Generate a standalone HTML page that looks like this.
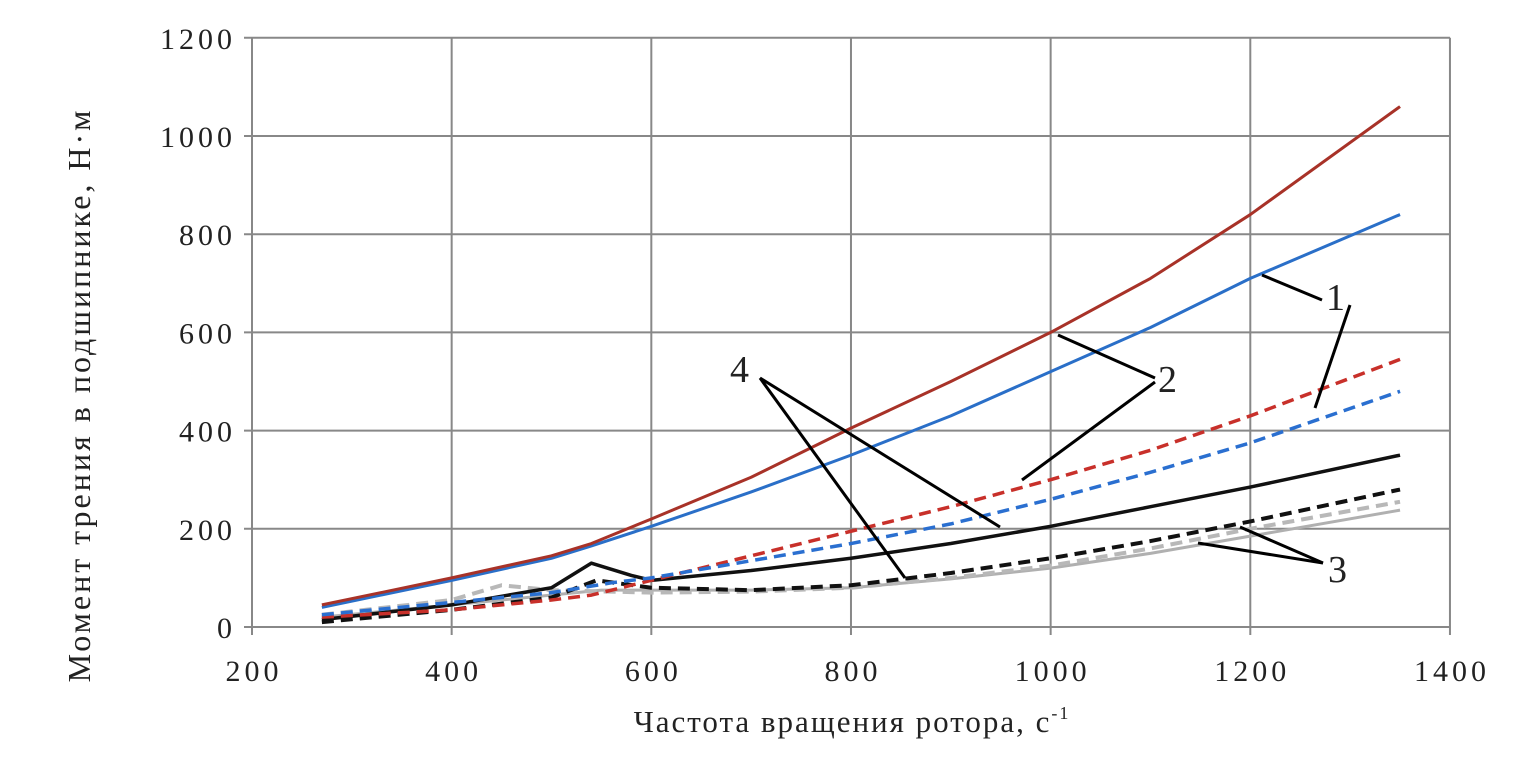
<!DOCTYPE html>
<html><head><meta charset="utf-8"><style>
body{margin:0;background:#fff}
svg text{font-family:"Liberation Serif",serif;fill:#222}
</style></head><body>
<svg width="1535" height="758" viewBox="0 0 1535 758" xmlns="http://www.w3.org/2000/svg">
<g id="grid"></g>
<g id="series"></g>
<g id="ann" stroke="#000" stroke-width="3" fill="none">
<line x1="1262" y1="275" x2="1322" y2="300"/><line x1="1315" y1="408" x2="1350" y2="305"/>
<line x1="1058" y1="335" x2="1155" y2="378"/><line x1="1022" y1="480" x2="1155" y2="382"/>
<line x1="760" y1="378" x2="1000" y2="527"/><line x1="760" y1="378" x2="905" y2="578"/>
<line x1="1240" y1="527" x2="1323" y2="563"/><line x1="1198" y1="543" x2="1323" y2="563"/>
</g>
<text x="1326" y="310" font-size="38">1</text>
<text x="1158" y="392" font-size="38">2</text>
<text x="730" y="382" font-size="38">4</text>
<text x="1328" y="582" font-size="38">3</text>
<text x="852" y="732" font-size="31" letter-spacing="2" text-anchor="middle">Частота вращения ротора, с<tspan font-size="18" dy="-13">-1</tspan></text>
<text transform="translate(90,395) rotate(-90)" font-size="32" letter-spacing="3" text-anchor="middle">Момент трения в подшипнике,  Н·м</text>
</svg>
<script>
const xTicks=[200,400,600,800,1000,1200,1400];
const yTicks=[0,200,400,600,800,1000,1200];
const redSolidX=[270,400,500,540,600,700,800,900,1000,1100,1200,1350];
const redSolid=[45,100,145,170,220,305,405,500,600,710,840,1060];
const blueSolidX=[270,400,500,540,600,700,800,900,1000,1100,1200,1350];
const blueSolid=[40,95,140,165,205,275,350,430,520,610,710,840];
const redDashX=[270,400,500,540,600,700,800,900,1000,1100,1200,1350];
const redDash=[20,35,55,65,95,145,195,245,300,360,430,545];
const blueDashX=[270,400,500,560,600,700,800,900,1000,1100,1200,1350];
const blueDash=[25,50,70,90,100,135,170,210,260,315,375,480];
const blackSolidX=[270,400,500,540,580,600,700,800,900,1000,1100,1200,1350];
const blackSolid=[15,45,80,130,105,95,115,140,170,205,245,285,350];
const blackDashX=[270,400,500,545,600,700,800,900,1000,1100,1200,1350];
const blackDash=[10,35,60,95,80,75,85,110,140,175,215,280];
const grayDashX=[270,400,450,500,600,700,800,900,1000,1100,1200,1350];
const grayDash=[25,55,85,75,70,72,80,100,125,160,200,255];
const graySolidX=[270,400,550,600,700,800,900,1000,1100,1200,1350];
const graySolid=[20,45,75,75,75,80,98,120,150,185,238];
const X=v=>252+(v-200)*0.9983, Y=v=>627-v*0.491;
const NS="http://www.w3.org/2000/svg";
const g=document.getElementById('grid'), s=document.getElementById('series'), svg=g.parentNode;
function mk(t,a,p){const e=document.createElementNS(NS,t);for(const k in a)e.setAttribute(k,a[k]);p.appendChild(e);return e;}
xTicks.forEach(v=>{
 const l=mk('line',{x1:X(v),x2:X(v),y1:Y(1200),y2:Y(0)+8,stroke:'#888','stroke-width':2},g);
 
 
 const t=mk('text',{x:X(v)+2,y:681,'font-size':30,'letter-spacing':4,'text-anchor':'middle'},svg);t.textContent=v;
 
 
});
yTicks.forEach(v=>{
 const l=mk('line',{x1:X(200)-8,x2:X(1400),y1:Y(v),y2:Y(v),stroke:'#888','stroke-width':2},g);
 
 
 const t=mk('text',{x:236,y:Y(v)+11,'font-size':30,'letter-spacing':4,'text-anchor':'end'},svg);t.textContent=v;
 
 
});
function line(xs,ys,col,dash,w,name){
 const p=mk('polyline',{points:xs.map((x,i)=>X(x)+','+Y(ys[i])).join(' '),fill:'none',stroke:col,'stroke-width':w,'stroke-dasharray':dash?'12 7':'none','stroke-linejoin':'round'},s);
 
 
}
line(graySolidX,graySolid,'#b0b0b0',false,3,'gray-solid-line');
line(grayDashX,grayDash,'#b8b8b8',true,4,'gray-dashed-line');
line(blackDashX,blackDash,'#111',true,4,'black-dashed-line');
line(blackSolidX,blackSolid,'#111',false,3.5,'black-solid-line');
line(redDashX,redDash,'#c8302a',true,3.5,'red-dashed-line');
line(blueDashX,blueDash,'#2a6fd0',true,3.5,'blue-dashed-line');
line(blueSolidX,blueSolid,'#2a6fc8',false,3,'blue-solid-line');
line(redSolidX,redSolid,'#a83228',false,3,'red-solid-line');
</script>
</body></html>
